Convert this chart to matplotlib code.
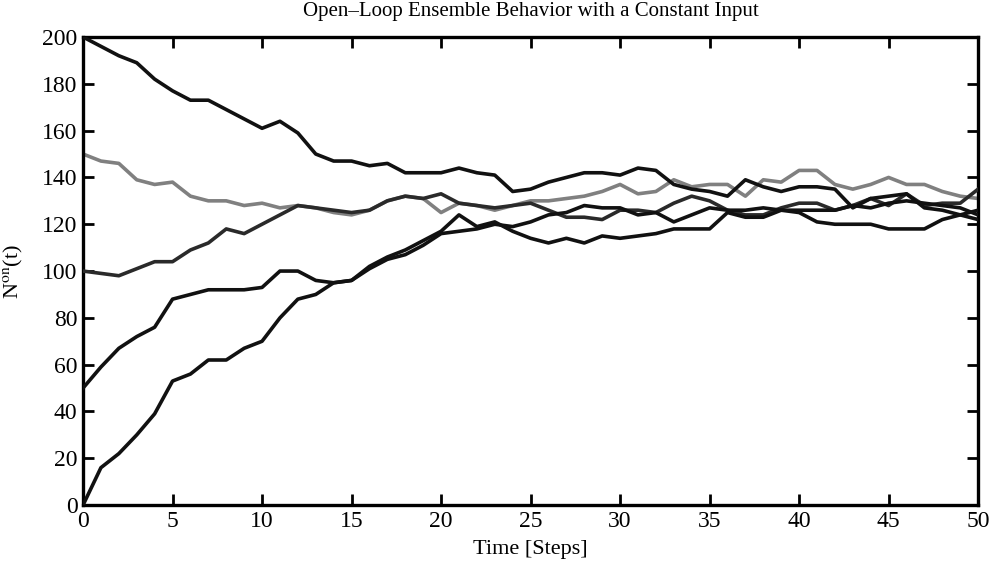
import matplotlib
matplotlib.use("Agg")
import matplotlib.pyplot as plt
import numpy as np

steps = list(range(51))
series_200 = [200,196,192,189,182,177,173,173,169,165,161,164,159,150,147,147,145,146,142,142,142,144,142,141,134,135,138,140,142,142,141,144,143,137,135,134,132,139,136,134,136,136,135,127,131,132,133,127,126,124,122]
series_150 = [150,147,146,139,137,138,132,130,130,128,129,127,128,127,125,124,126,130,132,131,125,129,128,126,128,130,130,131,132,134,137,133,134,139,136,137,137,132,139,138,143,143,137,135,137,140,137,137,134,132,131]
series_100 = [100,99,98,101,104,104,109,112,118,116,120,124,128,127,126,125,126,130,132,131,133,129,128,127,128,129,126,123,123,122,126,126,125,129,132,130,126,124,124,127,129,129,126,128,131,128,133,128,129,129,135]
series_50 = [50,59,67,72,76,88,90,92,92,92,93,100,100,96,95,96,101,105,107,111,116,117,118,120,119,121,124,125,128,127,127,124,125,121,124,127,126,126,127,126,126,126,126,128,127,129,130,129,128,127,124]
series_0 = [0,16,22,30,39,53,56,62,62,67,70,80,88,90,95,96,102,106,109,113,117,124,119,121,117,114,112,114,112,115,114,115,116,118,118,118,125,123,123,126,125,121,120,120,120,118,118,118,122,124,126]

xticks = list(range(0, 51, 5))
yticks = list(range(0, 201, 20))

plt.rcParams['font.family'] = ['Liberation Serif', 'DejaVu Serif']
plt.rcParams['mathtext.fontset'] = 'stix'

fig = plt.figure(figsize=(9.92, 5.65), dpi=100)
ax = fig.add_axes([0.0837, 0.106, 0.9023, 0.8285])

ax.plot(steps, series_150, color='#808080', lw=2.6, zorder=2)
ax.plot(steps, series_100, color='#2a2a2a', lw=2.6, zorder=3)
ax.plot(steps, series_50, color='#111111', lw=2.6, zorder=3)
ax.plot(steps, series_0, color='#111111', lw=2.6, zorder=3)
ax.plot(steps, series_200, color='#111111', lw=2.6, zorder=4)

ax.set_xlim(0, 50)
ax.set_ylim(0, 200)
ax.set_xticks(xticks)
ax.set_yticks(yticks)
ax.tick_params(direction='in', length=8, width=2, top=True, right=True, labelsize=17, pad=4)
for s in ax.spines.values():
    s.set_linewidth(2.4)
ax.set_title('Open\u2013Loop Ensemble Behavior with a Constant Input', fontsize=15, pad=15)
ax.set_xlabel('Time [Steps]', fontsize=16, labelpad=6)
ax.set_ylabel(r'N$^{\rm on}$(t)', fontsize=16, labelpad=12)

fig.savefig('out.png', dpi=100)
